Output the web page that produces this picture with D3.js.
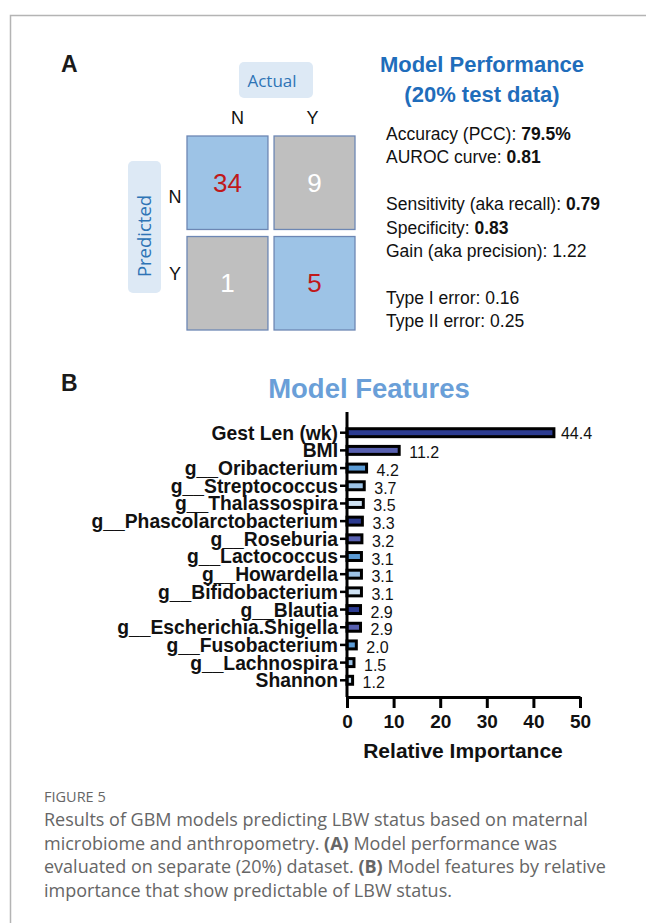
<!DOCTYPE html>
<html>
<head>
<meta charset="utf-8">
<script src="https://cdn.jsdelivr.net/npm/d3@7"></script>
<style>
  html, body { margin: 0; padding: 0; background: #fff; }
  svg { display: block; }
</style>
</head>
<body>
<svg id="fig" width="646" height="923"></svg>
<script>
// ---- Panel A: confusion matrix (rows = predicted, cols = actual) ----
const actualLabels = ["N", "Y"];
const predictedLabels = ["N", "Y"];
const confusionCounts = [
  [34, 9],
  [1, 5]
];

// ---- Panel A: performance summary ----
const perfTitle = ["Model Performance", "(20% test data)"];
const perfLines = [
  { label: "Accuracy (PCC): ", value: "79.5%", bold: true },
  { label: "AUROC curve: ", value: "0.81", bold: true },
  null,
  { label: "Sensitivity (aka recall): ", value: "0.79", bold: true },
  { label: "Specificity: ", value: "0.83", bold: true },
  { label: "Gain (aka precision): ", value: "1.22", bold: false },
  null,
  { label: "Type I error: ", value: "0.16", bold: false },
  { label: "Type II error: ", value: "0.25", bold: false }
];

// ---- Panel B: feature importance ----
const features = [
  "Gest Len (wk)", "BMI", "g__Oribacterium", "g__Streptococcus", "g__Thalassospira",
  "g__Phascolarctobacterium", "g__Roseburia", "g__Lactococcus", "g__Howardella",
  "g__Bifidobacterium", "g__Blautia", "g__Escherichia.Shigella", "g__Fusobacterium",
  "g__Lachnospira", "Shannon"
];
const importance = [44.4, 11.2, 4.2, 3.7, 3.5, 3.3, 3.2, 3.1, 3.1, 3.1, 2.9, 2.9, 2.0, 1.5, 1.2];
const importanceTicks = [0, 10, 20, 30, 40, 50];
const barPalette = ["#2c3b91", "#5860b0", "#5b9bd5", "#9dc3e6", "#cfe2f3"];

const captionHead = "FIGURE 5";
const captionLines = [
  [{ t: "Results of GBM models predicting LBW status based on maternal" }],
  [{ t: "microbiome and anthropometry. " }, { t: "(A)", b: true }, { t: " Model performance was" }],
  [{ t: "evaluated on separate (20%) dataset. " }, { t: "(B)", b: true }, { t: " Model features by relative" }],
  [{ t: "importance that show predictable of LBW status." }]
];

const svg = d3.select("#fig");
const SANS = "'Liberation Sans', Arial, sans-serif";

// frame around the figure
svg.append("path")
  .attr("d", "M10.5,930 V15.5 H660")
  .attr("fill", "none")
  .attr("stroke", "#b4b4b4")
  .attr("stroke-width", 1.5);

// panel letters
svg.append("text").attr("x", 61).attr("y", 72).text("A")
  .attr("font-family", SANS).attr("font-weight", "bold").attr("font-size", 23).attr("fill", "#1a1a1a");
svg.append("text").attr("x", 61).attr("y", 391).text("B")
  .attr("font-family", SANS).attr("font-weight", "bold").attr("font-size", 23).attr("fill", "#1a1a1a");

// ---- confusion matrix ----
const cmX = d3.scaleBand().domain(actualLabels).range([187, 355]).paddingInner(0.07);
const cmY = d3.scaleBand().domain(predictedLabels).range([136, 330]).paddingInner(0.07);

// "Actual" header box
svg.append("rect").attr("x", 239).attr("y", 62).attr("width", 74).attr("height", 36)
  .attr("rx", 5).attr("fill", "#dde9f5");
svg.append("text").attr("x", 272).attr("y", 87).attr("text-anchor", "middle")
  .attr("font-family", "'Open Sans', sans-serif").attr("font-size", 17).attr("fill", "#2e74b5")
  .text("Actual");

// "Predicted" header box
svg.append("rect").attr("x", 128).attr("y", 161).attr("width", 33).attr("height", 132)
  .attr("rx", 5).attr("fill", "#dde9f5");
svg.append("text").attr("transform", "translate(151,236) rotate(-90)").attr("text-anchor", "middle")
  .attr("font-family", "'Open Sans', sans-serif").attr("font-size", 18.5).attr("fill", "#2e74b5")
  .text("Predicted");

// header letters sit slightly inward of the cell centres
const colOffset = [10, -2];
svg.append("g").selectAll("text").data(actualLabels).join("text")
  .attr("x", (d, i) => cmX(d) + cmX.bandwidth() / 2 + colOffset[i]).attr("y", 124)
  .attr("text-anchor", "middle").attr("font-family", SANS).attr("font-size", 18).attr("fill", "#111")
  .text(d => d);
svg.append("g").selectAll("text").data(predictedLabels).join("text")
  .attr("x", 175).attr("y", (d, i) => cmY(d) + (i === 0 ? 67 : 43))
  .attr("text-anchor", "middle").attr("font-family", SANS).attr("font-size", 18).attr("fill", "#111")
  .text(d => d);

const cells = [];
predictedLabels.forEach((p, r) => actualLabels.forEach((a, c) => {
  cells.push({ p, a, v: confusionCounts[r][c], correct: r === c });
}));
const cellG = svg.append("g").selectAll("g").data(cells).join("g");
cellG.append("rect")
  .attr("x", d => cmX(d.a)).attr("y", d => cmY(d.p))
  .attr("width", cmX.bandwidth()).attr("height", cmY.bandwidth())
  .attr("fill", d => d.correct ? "#9dc3e6" : "#bfbfbf")
  .attr("stroke", "#6d87b4").attr("stroke-width", 1.3);
cellG.append("text")
  .attr("x", d => cmX(d.a) + cmX.bandwidth() / 2)
  .attr("y", d => cmY(d.p) + cmY.bandwidth() / 2 + 9)
  .attr("text-anchor", "middle").attr("font-family", SANS).attr("font-size", 26)
  .attr("fill", d => d.correct ? "#c0191b" : "#ffffff")
  .text(d => d.v);

// ---- performance text ----
svg.append("g").selectAll("text").data(perfTitle).join("text")
  .attr("x", 482).attr("y", (d, i) => 72 + i * 30)
  .attr("text-anchor", "middle").attr("font-family", SANS).attr("font-weight", "bold")
  .attr("font-size", 22).attr("fill", "#1f6dbb")
  .text(d => d);

const perfG = svg.append("g").attr("font-family", SANS).attr("font-size", 17.5).attr("fill", "#111");
perfLines.forEach((ln, i) => {
  if (!ln) return;
  const t = perfG.append("text").attr("x", 386).attr("y", 140 + i * 23.4);
  t.append("tspan").text(ln.label);
  t.append("tspan").attr("font-weight", ln.bold ? "bold" : "normal").text(ln.value);
});

// ---- Model Features bar chart ----
svg.append("text").attr("x", 369).attr("y", 398).attr("text-anchor", "middle")
  .attr("font-family", SANS).attr("font-weight", "bold").attr("font-size", 27.5).attr("fill", "#6a9fd8")
  .text("Model Features");

const x = d3.scaleLinear().domain([0, 50]).range([347, 580]);
const y = d3.scaleBand().domain(features).range([419, 694]).padding(0.55);

const bars = svg.append("g");
bars.selectAll("rect").data(features).join("rect")
  .attr("x", x(0)).attr("y", d => y(d))
  .attr("width", (d, i) => x(importance[i]) - x(0))
  .attr("height", y.bandwidth())
  .attr("fill", (d, i) => barPalette[i % barPalette.length])
  .attr("stroke", "#000").attr("stroke-width", 3);

bars.selectAll("text").data(features).join("text")
  .attr("x", (d, i) => x(importance[i]) + (i === 0 ? 7 : 10))
  .attr("y", (d, i) => y(d) + y.bandwidth() / 2 + 6 + (i === 0 ? 0 : 2))
  .attr("font-family", SANS).attr("font-size", 16).attr("fill", "#111")
  .text((d, i) => importance[i].toFixed(1));

const yAxis = svg.append("g").attr("transform", `translate(${x(0)},0)`)
  .call(d3.axisLeft(y).tickSizeOuter(0).tickSize(7).tickPadding(2));
yAxis.select(".domain").attr("d", `M0,412V697`).attr("stroke", "#000").attr("stroke-width", 3);
yAxis.selectAll(".tick line").attr("stroke", "#000").attr("stroke-width", 2.5);
yAxis.selectAll(".tick text").attr("font-family", SANS).attr("font-weight", "bold")
  .attr("font-size", 19.3).attr("fill", "#111").attr("dy", "0.36em");

const xAxis = svg.append("g").attr("transform", "translate(0,697)")
  .call(d3.axisBottom(x).tickValues(importanceTicks).tickSize(11).tickSizeOuter(0).tickPadding(7));
xAxis.select(".domain").attr("stroke", "#000").attr("stroke-width", 3);
xAxis.selectAll(".tick line").attr("stroke", "#000").attr("stroke-width", 3);
xAxis.selectAll(".tick text").attr("font-family", SANS).attr("font-weight", "bold")
  .attr("font-size", 19).attr("fill", "#111");

svg.append("text").attr("x", 463).attr("y", 758).attr("text-anchor", "middle")
  .attr("font-family", SANS).attr("font-weight", "bold").attr("font-size", 21).attr("fill", "#111")
  .text("Relative Importance");

// ---- caption ----
const capG = svg.append("g").attr("font-family", "'Open Sans', sans-serif").attr("fill", "#666666");
capG.append("text").attr("x", 44).attr("y", 802).attr("font-size", 14.5).text(captionHead);
captionLines.forEach((parts, i) => {
  const t = capG.append("text").attr("x", 44).attr("y", 826 + i * 23.7).attr("font-size", 18);
  parts.forEach(p => t.append("tspan").attr("font-weight", p.b ? "bold" : "normal").text(p.t));
});
</script>
</body>
</html>
